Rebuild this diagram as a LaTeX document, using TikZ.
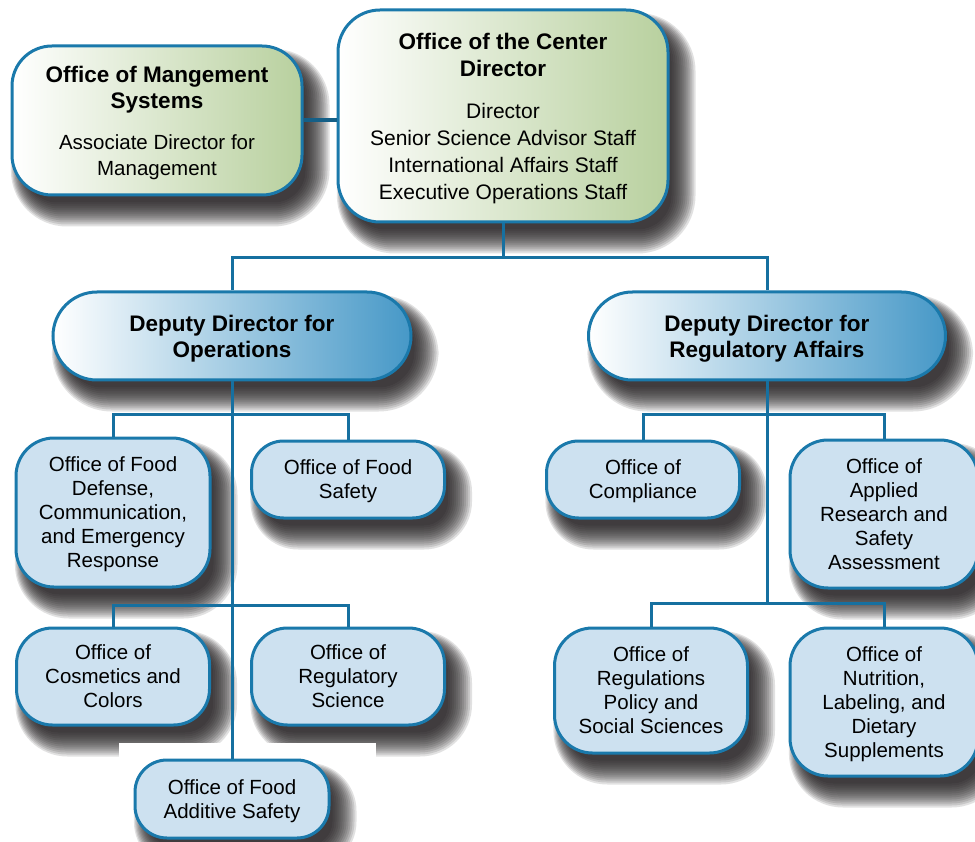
\documentclass[tikz,border=0pt]{standalone}
\usepackage{fontspec}
\setmainfont{Liberation Sans}
\definecolor{bd}{RGB}{26,121,171}
\definecolor{lnk}{RGB}{22,112,160}
\definecolor{lnkd}{RGB}{20,95,135}
\definecolor{lb}{RGB}{205,225,240}
\definecolor{gr}{RGB}{184,208,158}
\definecolor{grm}{RGB}{226,235,214}
\definecolor{bl}{RGB}{70,152,199}
\definecolor{blm}{RGB}{184,216,235}
\definecolor{shc}{RGB}{30,26,28}
\pgfdeclarelayer{bglayer}
\pgfdeclarelayer{shlayer}
\pgfsetlayers{bglayer,shlayer,main}
\tikzset{
  child/.style={draw=bd, line width=3pt, rounded corners=32pt, fill=lb, align=center, inner sep=0pt, text depth=0pt,
    font=\fontsize{20.5}{24}\selectfont},
  topbox/.style={draw=bd, line width=3pt, rounded corners=40pt, left color=white, middle color=grm, right color=gr,
    align=center, inner sep=0pt, text depth=0pt},
  depbox/.style={draw=bd, line width=3pt, rounded corners=44pt, left color=white, middle color=blm, right color=bl,
    align=center, inner sep=0pt, text depth=0pt, font=\fontsize{22.5}{26}\selectfont\bfseries},
  link/.style={draw=lnk, line width=3pt},
  shadowlayer/.style={fill=shc, fill opacity=0.13},
}
\newcommand{\ttl}[1]{{\fontsize{22.5}{26}\selectfont\bfseries #1}}
% blurred drop shadow made of stacked translucent rounded rectangles
\newcommand{\boxshadow}[2]{%
  \foreach \e in {-8,-6,...,16}{%
    \fill[shadowlayer, rounded corners={#2pt+(\e pt)}]
      ([shift={(10-0.6*\e,14-0.6*\e)}]#1.north west) rectangle ([shift={(10+\e,14+\e)}]#1.south east);
  }%
}
\begin{document}
\begin{tikzpicture}[x=1pt,y=-1pt]
\begin{pgfonlayer}{bglayer}
\fill[white] (0,0) rectangle (975,842);
\end{pgfonlayer}
\useasboundingbox (0,0) rectangle (975,842);

% top level
\node[topbox, minimum width=290pt, minimum height=149pt, font=\fontsize{20.5}{26}\selectfont] (mgmt) at (157,120.5)
  {\ttl{Office of Mangement}\\\ttl{Systems}\\[15pt]Associate Director for\\Management};
\node[topbox, minimum width=330pt, minimum height=212pt, rounded corners=42pt, font=\fontsize{21}{27}\selectfont] (ctr) at (503,116)
  {\ttl{Office of the Center}\\\ttl{Director}\\[15pt]Director\\Senior Science Advisor Staff\\International Affairs Staff\\Executive Operations Staff};

% deputies
\node[depbox, minimum width=358pt, minimum height=88pt] (ops) at (232,336) {Deputy Director for\\Operations};
\node[depbox, minimum width=357pt, minimum height=88pt] (reg) at (767,336) {Deputy Director for\\Regulatory Affairs};

% operations offices
\node[child, minimum width=194pt, minimum height=149pt, rounded corners=38pt] (def) at (113,512.5)
  {Office of Food\\Defense,\\Communication,\\and Emergency\\Response};
\node[child, minimum width=193pt, minimum height=77pt] (saf) at (348,479.5) {Office of Food\\Safety};
\node[child, minimum width=193pt, minimum height=97pt, rounded corners=36pt] (cos) at (113,676.5) {Office of\\Cosmetics and\\Colors};
\node[child, minimum width=193pt, minimum height=97pt, rounded corners=36pt] (rsc) at (348,676.5) {Office of\\Regulatory\\Science};
\node[child, minimum width=194pt, minimum height=78pt] (add) at (232,799) {Office of Food\\Additive Safety};

% regulatory offices
\node[child, minimum width=193pt, minimum height=77pt] (comp) at (643,479.5) {Office of\\Compliance};
\node[child, minimum width=188pt, minimum height=148pt, rounded corners=38pt] (appl) at (884,514)
  {Office of\\Applied\\Research and\\Safety\\Assessment};
\node[child, minimum width=193pt, minimum height=125pt, rounded corners=38pt] (regp) at (651,690.5)
  {Office of\\Regulations\\Policy and\\Social Sciences};
\node[child, minimum width=188pt, minimum height=148pt, rounded corners=38pt] (nut) at (884,702)
  {Office of\\Nutrition,\\Labeling, and\\Dietary\\Supplements};

% shadows
\begin{pgfonlayer}{shlayer}
\boxshadow{mgmt}{40}
\boxshadow{ctr}{42}
\boxshadow{ops}{44}
\boxshadow{reg}{44}
\boxshadow{def}{38}
\boxshadow{saf}{32}
\boxshadow{cos}{36}
\boxshadow{rsc}{36}
\fill[white] (119,743) rectangle (376,842);
\boxshadow{add}{32}
\boxshadow{comp}{32}
\boxshadow{appl}{38}
\boxshadow{regp}{38}
\boxshadow{nut}{38}
\end{pgfonlayer}

% junctions
\coordinate (j0) at (503,258);
\coordinate (j1) at (232,414);
\coordinate (j2) at (232,605);
\coordinate (k1) at (767,414);
\coordinate (k2) at (767,603);

% connectors
\draw[link, line width=4pt, draw=lnkd] (mgmt.east) -- (mgmt.east -| ctr.west);
\draw[link] (ctr.south) -- (j0);
\draw[link] (ops.north) |- (j0) -| (reg.north);
\draw[link] (ops.south) -- (add.north);
\draw[link] (def.north) |- (j1) -| (saf.north);
\draw[link] (cos.north) |- (j2) -| (rsc.north);
\draw[link] (reg.south) -- (k2);
\draw[link] (comp.north) |- (k1) -| (appl.north);
\draw[link] (regp.north) |- (k2) -| (nut.north);
\end{tikzpicture}
\end{document}
